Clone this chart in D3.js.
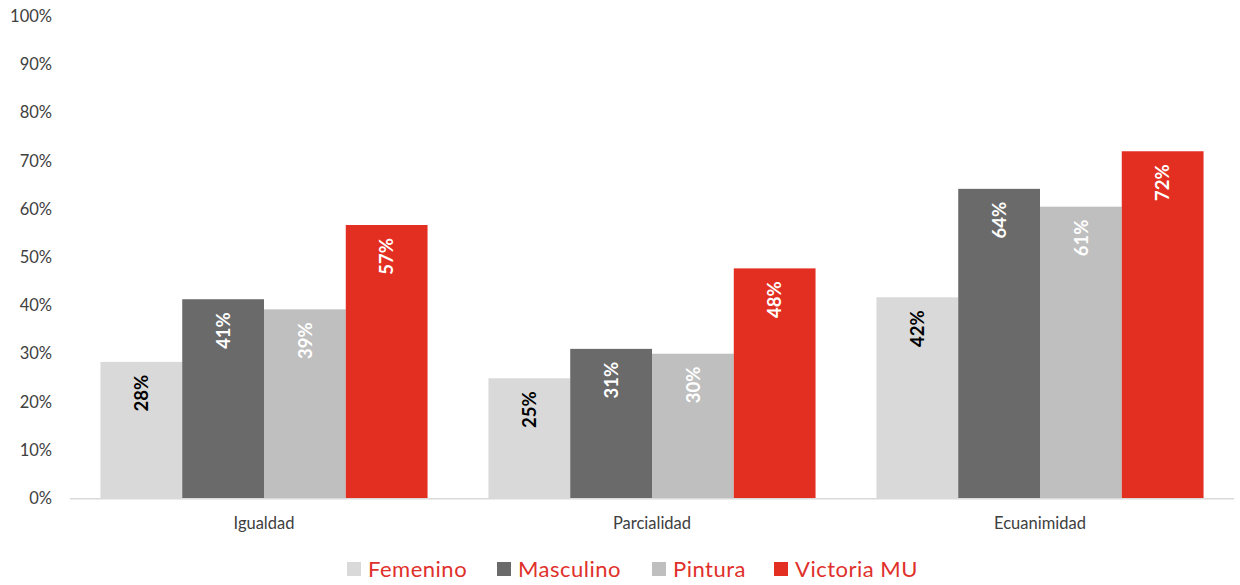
<!DOCTYPE html>
<html>
<head>
<meta charset="utf-8">
<script src="https://cdn.jsdelivr.net/npm/d3@7"></script>
<style>
  body { margin: 0; background: #fff; }
  svg text { font-family: Lato, "Open Sans", sans-serif; }
</style>
</head>
<body>
<script>
var categories = ["Igualdad", "Parcialidad", "Ecuanimidad"];
var seriesNames = ["Femenino", "Masculino", "Pintura", "Victoria MU"];
var femenino = [0.283, 0.249, 0.417];
var masculino = [0.413, 0.310, 0.642];
var pintura = [0.392, 0.300, 0.605];
var victoria = [0.567, 0.477, 0.720];
var yTicks = [0, 0.1, 0.2, 0.3, 0.4, 0.5, 0.6, 0.7, 0.8, 0.9, 1];

var colors = ["#d9d9d9", "#6a6a6a", "#bfbfbf", "#e32f22"];
var labelColors = ["#000", "#fff", "#fff", "#fff"];
var allSeries = [femenino, masculino, pintura, victoria];

var width = 1240,
    height = 585;

var svg = d3.select("body").append("svg")
    .attr("width", width)
    .attr("height", height);

var x0 = d3.scaleBand()
    .domain(categories)
    .range([70, 1234])
    .paddingInner(0.157)
    .paddingOuter(0.0785);

var x1 = d3.scaleBand()
    .domain(seriesNames)
    .range([0, x0.bandwidth()]);

var y = d3.scaleLinear()
    .domain([0, 1])
    .range([498.3, 16.3]);

// y axis labels, no line
svg.append("g").selectAll("text")
    .data(yTicks)
    .enter().append("text")
    .attr("x", 52)
    .attr("y", function(d) { return y(d); })
    .attr("dy", "0.35em")
    .attr("text-anchor", "end")
    .attr("font-size", 16.5)
    .attr("fill", "#404040")
    .text(d3.format(".0%"));

// bars
var rows = [];
categories.forEach(function(c, i) {
    seriesNames.forEach(function(s, j) {
        rows.push({ cat: c, name: s, idx: j, value: allSeries[j][i] });
    });
});

svg.append("g").selectAll("rect")
    .data(rows)
    .enter().append("rect")
    .attr("x", function(d) { return x0(d.cat) + x1(d.name); })
    .attr("y", function(d) { return y(d.value); })
    .attr("width", x1.bandwidth())
    .attr("height", function(d) { return y(0) - y(d.value); })
    .attr("fill", function(d) { return colors[d.idx]; });

// x axis line
svg.append("line")
    .attr("x1", x0.range()[0])
    .attr("x2", x0.range()[1])
    .attr("y1", y(0) + 0.5)
    .attr("y2", y(0) + 0.5)
    .attr("stroke", "#d9d9d9")
    .attr("stroke-width", 1.5);

// value labels, rotated
svg.append("g").selectAll("text")
    .data(rows)
    .enter().append("text")
    .attr("transform", function(d) {
        var cx = x0(d.cat) + x1(d.name) + x1.bandwidth() / 2;
        return "translate(" + cx + "," + (y(d.value) + 13) + ") rotate(-90)";
    })
    .attr("text-anchor", "end")
    .attr("dy", "0.36em")
    .attr("font-size", 18.5)
    .attr("font-weight", "bold")
    .attr("fill", function(d) { return labelColors[d.idx]; })
    .text(function(d) { return d3.format(".0%")(d.value); });

// category labels
svg.append("g").selectAll("text")
    .data(categories)
    .enter().append("text")
    .attr("x", function(d) { return x0(d) + x0.bandwidth() / 2; })
    .attr("y", 523)
    .attr("dy", "0.35em")
    .attr("text-anchor", "middle")
    .attr("font-size", 16.5)
    .attr("fill", "#404040")
    .text(function(d) { return d; });

// legend
var legendX = [347, 497, 652, 774];
var legend = svg.append("g").selectAll("g")
    .data(seriesNames)
    .enter().append("g")
    .attr("transform", function(d, i) { return "translate(" + legendX[i] + ",569)"; });

legend.append("rect")
    .attr("x", 0)
    .attr("y", -7)
    .attr("width", 14)
    .attr("height", 14)
    .attr("fill", function(d, i) { return colors[i]; });

legend.append("text")
    .attr("x", 21)
    .attr("y", 8)
    .attr("font-size", 22)
    .attr("letter-spacing", 0.5)
    .attr("fill", "#e0302a")
    .text(function(d) { return d; });
</script>
</body>
</html>
